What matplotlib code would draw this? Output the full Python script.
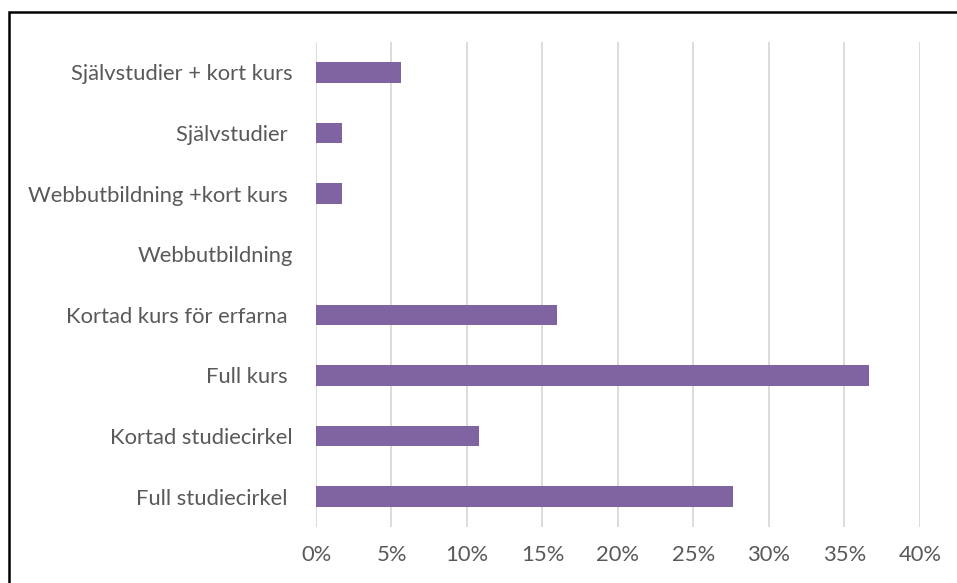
import matplotlib.pyplot as plt
from matplotlib.ticker import PercentFormatter
from matplotlib.patches import Rectangle

# bottom to top, as in the chart
categories = ["Full studiecirkel ", "Kortad studiecirkel", "Full kurs ",
              "Kortad kurs för erfarna ", "Webbutbildning",
              "Webbutbildning +kort kurs ", "Självstudier ",
              "Självstudier + kort kurs"]
values = [27.6, 10.8, 36.6, 15.95, 0.0, 1.72, 1.72, 5.61]
xticks = [0, 5, 10, 15, 20, 25, 30, 35, 40]

plt.rcParams["font.family"] = ["Lato", "DejaVu Sans"]

fig = plt.figure(figsize=(9.57, 5.83), dpi=100)
ax = fig.add_axes([0.3302, 0.096, 0.6311, 0.832])

ax.barh(range(len(categories)), values, height=0.34, color="#8064A2", zorder=3)

ax.set_xlim(0, 40)
ax.set_ylim(-0.5, len(categories) - 0.5)
ax.set_xticks(xticks)
ax.xaxis.set_major_formatter(PercentFormatter(decimals=0))
ax.set_yticks(range(len(categories)))
ax.set_yticklabels(categories)
ax.grid(axis="x", color="#D9D9D9", linewidth=1.3, zorder=0)
ax.tick_params(axis="both", length=0, labelsize=15.8, labelcolor="#595959")
ax.tick_params(axis="y", pad=16.5)
ax.tick_params(axis="x", pad=13)
for s in ax.spines.values():
    s.set_visible(False)

# black frame around the chart (cut at right and bottom)
fig.patches.append(Rectangle((9 / 957, -0.1), 1.2, 1 - 12.5 / 583 + 0.1,
                             transform=fig.transFigure, fill=False,
                             edgecolor="black", linewidth=1.8))

fig.savefig("out.png", dpi=100)
